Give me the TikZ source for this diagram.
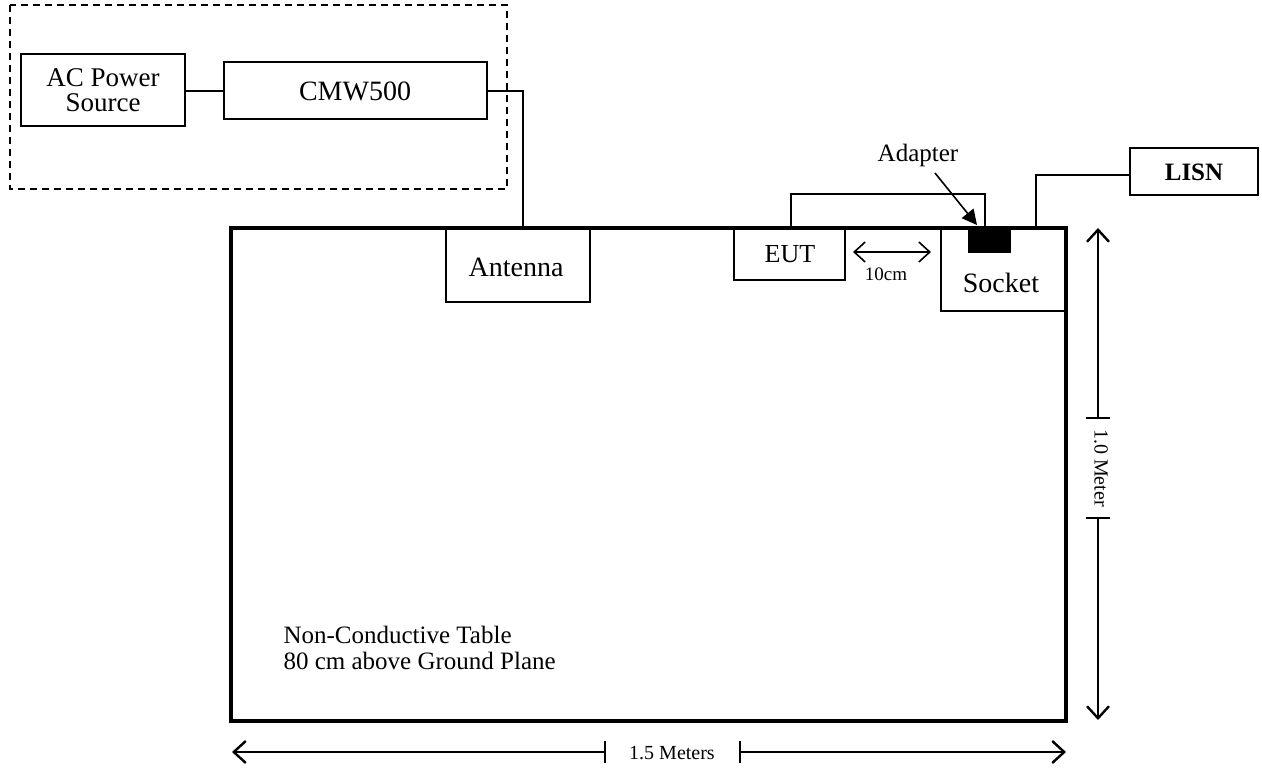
\documentclass[tikz,border=0pt]{standalone}
\usepackage{fontspec}
\setmainfont{Liberation Serif}
\usetikzlibrary{arrows.meta}
\begin{document}
\begin{tikzpicture}[x=1pt,y=-1pt,
  box/.style={draw,line width=1.8pt},
  wire/.style={line width=1.8pt},
  bigtip/.tip={Straight Barb[length=12pt,width=22pt,line width=2.4pt]},
  smalltip/.tip={Straight Barb[length=11pt,width=20pt,line width=1.6pt]},
  lbl/.style={font=\fontsize{28}{24}\selectfont,align=center}]
\useasboundingbox (0,0) rectangle (1262,769);
% dashed enclosure
\draw[line width=1.4pt,dash pattern=on 7pt off 5pt] (10,5) rectangle (507,189);
% boxes
\draw[box] (21,54) rectangle (185,126);
\node[font=\fontsize{27}{25}\selectfont,align=center] (ac) at (103,90) {AC Power\\Source};
\coordinate (acR) at (185,91);
\draw[box] (224,62) rectangle (487,119);
\node[lbl] (cmw) at (355,91) {CMW500};
\coordinate (cmwL) at (224,91);
\coordinate (cmwR) at (487,91);
% table
\draw[line width=3.5pt] (231,228) rectangle (1066,721);
\node[font=\fontsize{25}{26}\selectfont,align=left,anchor=west] (tbl) at (280,648) {Non-Conductive Table\\80 cm above Ground Plane};
% antenna
\draw[box] (446,228) rectangle (590,302);
\node[lbl] (ant) at (516,267) {Antenna};
\coordinate (antT) at (523,228);
% EUT
\draw[box] (734,228) rectangle (845,280);
\node[font=\fontsize{26}{26}\selectfont] (eut) at (790,254) {EUT};
% socket
\draw[box] (941,228) rectangle (1066,311);
\node[lbl] (sock) at (1001,283) {Socket};
\fill (968,228) rectangle (1011,253);
\coordinate (adp) at (977,225);
% LISN
\draw[box] (1130,148) rectangle (1258,195);
\node[font=\bfseries\fontsize{25}{25}\selectfont] (lisn) at (1194,172) {LISN};
% wires
\draw[wire] (acR) -- (cmwL);
\draw[wire] (cmwR) -- (523,91) -- (antT);
\draw[line width=1.6pt] (791,228) -- (791,194) -- (985,194) -- (985,228);
\draw[line width=1.6pt] (1036,228) -- (1036,175) -- (1130,175);
% adapter label and arrow
\node[font=\fontsize{25}{25}\selectfont] (adlbl) at (918,155) {Adapter};
\draw[line width=1.6pt,-{Triangle[length=15pt,width=15pt]}] (935,173) -- (adp);
% 10 cm
\draw[line width=1.6pt,smalltip-smalltip] (853,252) -- (931,252);
\node[font=\fontsize{19}{19}\selectfont] (ten) at (886,274) {10cm};
% vertical dimension
\draw[line width=1.6pt,bigtip-] (1098,228) -- (1098,418);
\draw[line width=1.6pt,-bigtip] (1098,518) -- (1098,720);
\draw[line width=1.6pt] (1086,418) -- (1110,418) (1086,518) -- (1110,518);
\node[rotate=-90,font=\fontsize{20}{20}\selectfont] (vm) at (1101,468) {1.0 Meter};
% horizontal dimension
\draw[line width=1.6pt,bigtip-] (232,752) -- (605,752);
\draw[line width=1.6pt,-bigtip] (740,752) -- (1066,752);
\draw[line width=1.6pt] (605,741) -- (605,763) (740,741) -- (740,763);
\node[font=\fontsize{20}{20}\selectfont] (hm) at (672,753) {1.5 Meters};
\end{tikzpicture}
\end{document}
